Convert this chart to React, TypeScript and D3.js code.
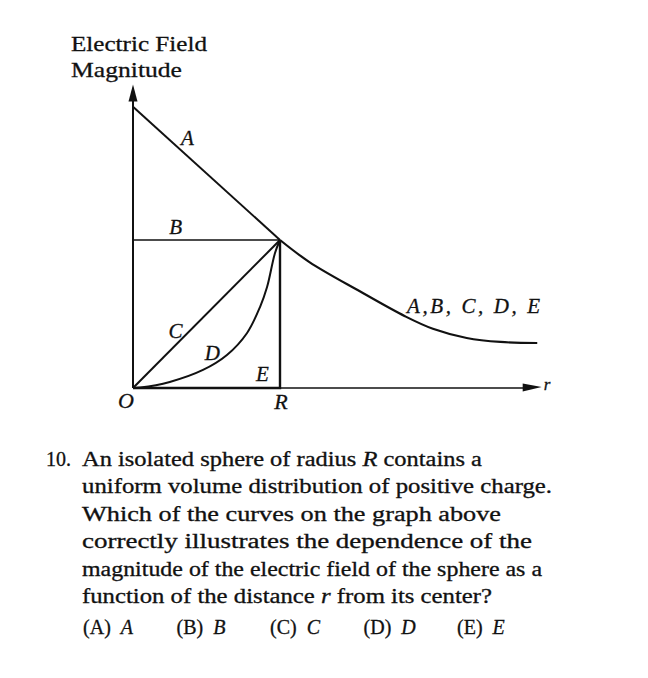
import React from 'react';
import * as d3 from 'd3';

// curve values in units of R (r) and E(R) (field)
const curveA: [number, number][] = [[0, 1.9], [1, 1]];
const curveTail: [number, number][] = [
  [1, 1], [1.2, 0.851], [1.54, 0.655], [1.85, 0.485], [2.04, 0.4],
  [2.27, 0.338], [2.5, 0.311], [2.75, 0.304],
];
const curveB: [number, number][] = [[0, 1], [1, 1]];
const curveC: [number, number][] = [[0, 0], [1, 1]];
const curveD: [number, number][] = [
  [0, 0], [0.05, 0.003], [0.25, 0.041], [0.476, 0.122], [0.639, 0.223],
  [0.776, 0.372], [0.864, 0.547], [0.912, 0.682], [0.966, 0.912], [1, 1],
];
const curveE: [number, number][] = [[0, 0], [1, 0], [1, 1]];

const curveLabels = [
  { text: 'A', r: 0.37, e: 1.64 },
  { text: 'B', r: 0.29, e: 1.04 },
  { text: 'C', r: 0.29, e: 0.34 },
  { text: 'D', r: 0.54, e: 0.19 },
  { text: 'E', r: 0.88, e: 0.05 },
];

const titleLines = ['Electric Field', 'Magnitude'];
const questionLines: (string | { i: string })[][] = [
  ['An isolated sphere of radius ', { i: 'R' }, ' contains a'],
  ['uniform volume distribution of positive charge.'],
  ['Which of the curves on the graph above'],
  ['correctly illustrates the dependence of the'],
  ['magnitude of the electric field of the sphere as a'],
  ['function of the distance ', { i: 'r' }, ' from its center?'],
];
const lineWidths = [400, 470, 419, 450, 460, 410];
const answerChoices = ['A', 'B', 'C', 'D', 'E'];

export default function App() {
  const x = d3.scaleLinear().domain([0, 1]).range([133, 280]);
  const y = d3.scaleLinear().domain([0, 1]).range([388, 240]);
  const line = d3.line<[number, number]>().x(d => x(d[0])).y(d => y(d[1]));
  const smooth = d3.line<[number, number]>().x(d => x(d[0])).y(d => y(d[1])).curve(d3.curveCatmullRom.alpha(0.5));

  const xEnd = 2.78;
  const yEnd = 2.05;
  const ink = '#111';
  const serif = '"Liberation Serif", "Times New Roman", serif';
  const heavy = { stroke: ink, strokeWidth: 0.3 };

  return (
    <svg width={648} height={678} style={{ position: 'absolute', left: 0, top: 0, background: '#fff' }}
      fontFamily={serif} fill={ink}>
      {/* title */}
      {titleLines.map((t, i) => (
        <text key={t} x={71} y={51 + i * 26} fontSize={22} textLength={i === 0 ? 136 : 111}
          lengthAdjust="spacingAndGlyphs" {...heavy}>{t}</text>
      ))}

      {/* axes */}
      <line x1={x(0)} y1={y(0)} x2={x(0)} y2={y(yEnd) + 12} stroke={ink} strokeWidth={2} />
      <polygon points={`${x(0)},${y(yEnd)} ${x(0) - 4.5},${y(yEnd) + 17} ${x(0) + 4.5},${y(yEnd) + 17}`} fill={ink} />
      <line x1={x(0)} y1={y(0)} x2={x(xEnd) - 12} y2={y(0)} stroke={ink} strokeWidth={1.6} />
      <polygon points={`${x(xEnd)},${y(0) - 1} ${x(xEnd) - 19},${y(0) - 4.5} ${x(xEnd) - 19},${y(0) + 3.5}`} fill={ink} />

      {/* curves */}
      <path d={line(curveA) ?? ''} fill="none" stroke={ink} strokeWidth={2} />
      <path d={smooth(curveTail) ?? ''} fill="none" stroke={ink} strokeWidth={2.2} />
      <path d={line(curveB) ?? ''} fill="none" stroke={ink} strokeWidth={1.6} />
      <path d={line(curveC) ?? ''} fill="none" stroke={ink} strokeWidth={2} />
      <path d={smooth(curveD) ?? ''} fill="none" stroke={ink} strokeWidth={2} />
      <path d={line(curveE) ?? ''} fill="none" stroke={ink} strokeWidth={2.4} />

      {/* labels */}
      {curveLabels.map(l => (
        <text key={l.text} x={x(l.r)} y={y(l.e)} fontSize={21} fontStyle="italic" textAnchor="middle" {...heavy}>{l.text}</text>
      ))}
      <text x={407} y={313} fontSize={21} fontStyle="italic" textLength={133} lengthAdjust="spacing" {...heavy}>A,B, C, D, E</text>
      <text x={x(0) - 7} y={408} fontSize={22} fontStyle="italic" textAnchor="middle" {...heavy}>O</text>
      <text x={x(1) + 1} y={409} fontSize={22} fontStyle="italic" textAnchor="middle" {...heavy}>R</text>
      <text x={x(xEnd) + 2} y={390} fontSize={17} fontStyle="italic" {...heavy}>r</text>

      {/* question */}
      <text x={46} y={466} fontSize={20} {...heavy}>10.</text>
      {questionLines.map((ln, i) => (
        <text key={i} x={82} y={466 + i * 27.4} fontSize={20} textLength={lineWidths[i]}
          lengthAdjust="spacingAndGlyphs" {...heavy}>
          {ln.map((p, j) => typeof p === 'string'
            ? <tspan key={j} style={{ whiteSpace: 'pre' }}>{p}</tspan>
            : <tspan key={j} fontStyle="italic">{p.i}</tspan>)}
        </text>
      ))}
      {answerChoices.map((c, i) => (
        <text key={c} x={83 + i * 93.5} y={634} fontSize={20} style={{ whiteSpace: 'pre' }} {...heavy}>
          ({c})  <tspan fontStyle="italic">{c}</tspan>
        </text>
      ))}
    </svg>
  );
}
